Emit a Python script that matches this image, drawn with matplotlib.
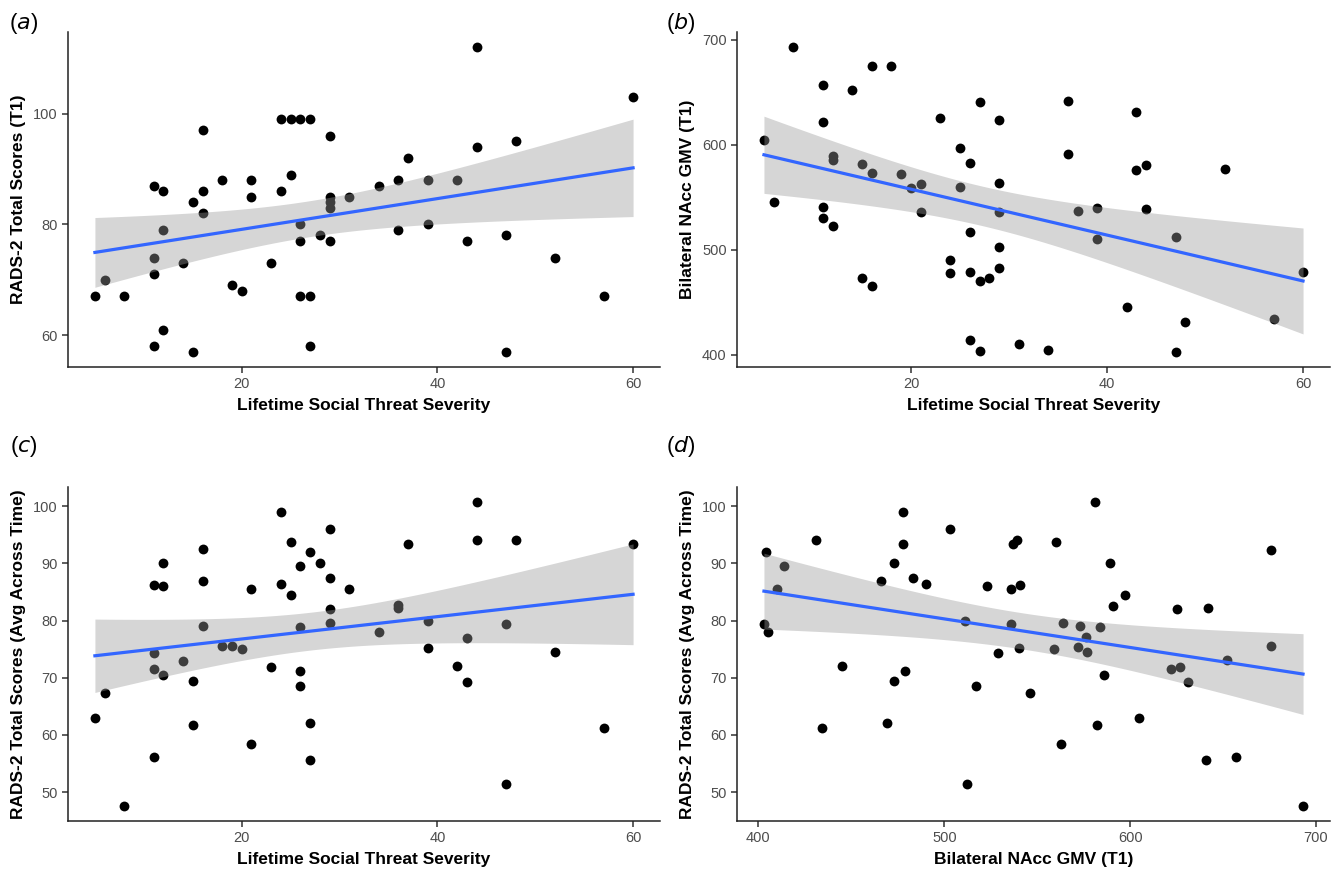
"""
Four-panel scatter: social threat severity, NAcc GMV and RADS-2 depressive symptoms,
each with an OLS fit and 95% confidence band (ggplot geom_smooth look).
"""
import numpy as np
import matplotlib
matplotlib.use("Agg")
import matplotlib.pyplot as plt

# ── Data ────────────────────────────────────────────────────────────────────
# (a) Lifetime social threat severity vs RADS-2 total (T1)
threat_a = [5, 6, 8, 11, 11, 11, 11, 12, 12, 12, 14, 15, 15, 16, 16, 16, 18, 19, 20,
            21, 21, 23, 24, 24, 25, 25, 26, 26, 26, 26, 27, 27, 27, 28, 29, 29, 29, 29,
            29, 31, 34, 36, 36, 37, 39, 39, 42, 43, 44, 44, 47, 47, 48, 52, 57, 60]
rads_t1 = [67, 70, 67, 87, 74, 71, 58, 86, 79, 61, 73, 84, 57, 97, 86, 82, 88, 69, 68,
           88, 85, 73, 99, 86, 99, 89, 99, 80, 77, 67, 99, 67, 58, 78, 96, 85, 84, 83,
           77, 85, 87, 88, 79, 92, 88, 80, 88, 77, 112, 94, 78, 57, 95, 74, 67, 103]

# (b) Lifetime social threat severity vs bilateral NAcc GMV (T1)
threat_b = [5, 6, 8, 11, 11, 11, 11, 12, 12, 12, 14, 15, 15, 16, 16, 16, 18, 19, 20,
            21, 21, 23, 24, 24, 25, 25, 26, 26, 26, 26, 27, 27, 27, 28, 29, 29, 29, 29,
            29, 31, 34, 36, 36, 37, 39, 39, 42, 43, 43, 44, 44, 47, 47, 48, 52, 57, 60]
nacc_b = [605, 546, 693, 657, 622, 541, 530, 589, 586, 523, 652, 582, 473, 675, 573,
          466, 675, 572, 559, 563, 536, 626, 490, 478, 597, 560, 583, 517, 479, 414,
          641, 470, 404, 473, 624, 564, 536, 503, 483, 410, 405, 642, 591, 537, 540,
          510, 446, 631, 576, 581, 539, 512, 403, 431, 577, 434, 479]

# (c) Lifetime social threat severity vs RADS-2 total (avg across time)
threat_c = [5, 6, 8, 11, 11, 11, 11, 12, 12, 12, 14, 15, 15, 16, 16, 16, 18, 19, 20,
            21, 21, 23, 24, 24, 25, 25, 26, 26, 26, 26, 27, 27, 27, 28, 29, 29, 29, 29,
            31, 34, 36, 36, 37, 39, 39, 42, 43, 43, 44, 44, 47, 47, 48, 52, 57, 60]
rads_avg_c = [63, 67.4, 47.6, 86.2, 74.3, 71.6, 56.2, 90, 86, 70.4, 73, 69.4, 61.8,
              92.5, 87, 79, 75.5, 75.5, 75, 85.5, 58.4, 71.8, 99, 86.4, 93.8, 84.5,
              89.5, 78.9, 71.2, 68.5, 92, 62, 55.6, 90, 96, 87.5, 82, 79.5, 85.6, 78,
              82.7, 82.2, 93.3, 80, 75.2, 72, 77, 69.2, 100.7, 94, 79.4, 51.4, 94,
              74.5, 61.2, 93.4]

# (d) Bilateral NAcc GMV (T1) vs RADS-2 total (avg across time)
nacc_d = [404, 403, 405, 410, 414, 431, 434, 445, 466, 469, 473, 473, 478, 478, 479,
          483, 490, 503, 511, 512, 517, 523, 529, 537, 539, 536, 541, 536, 540, 546,
          581, 560, 676, 589, 597, 591, 625, 642, 564, 573, 584, 576, 559, 572, 577,
          676, 652, 622, 627, 631, 586, 605, 582, 563, 641, 657, 693]
rads_avg_d = [92, 79.4, 78, 85.6, 89.5, 94, 61.2, 72, 87, 62, 69.4, 90, 99, 93.3, 71.2,
              87.5, 86.4, 96, 80, 51.4, 68.5, 86, 74.3, 93.3, 94, 85.5, 86.2, 79.4, 75.2,
              67.4, 100.7, 93.8, 92.4, 90, 84.5, 82.6, 82, 82.2, 79.5, 79, 78.8, 77.1,
              75, 75.4, 74.5, 75.5, 73.1, 71.6, 71.8, 69.2, 70.4, 63, 61.7, 58.4, 55.6,
              56.2, 47.6]

PANELS = [
    ("a", threat_a, rads_t1, "Lifetime Social Threat Severity",
     "RADS-2 Total Scores (T1)", [20, 40, 60], [60, 80, 100]),
    ("b", threat_b, nacc_b, "Lifetime Social Threat Severity",
     "Bilateral NAcc GMV (T1)", [20, 40, 60], [400, 500, 600, 700]),
    ("c", threat_c, rads_avg_c, "Lifetime Social Threat Severity",
     "RADS-2 Total Scores (Avg Across Time)", [20, 40, 60], [50, 60, 70, 80, 90, 100]),
    ("d", nacc_d, rads_avg_d, "Bilateral NAcc GMV (T1)",
     "RADS-2 Total Scores (Avg Across Time)", [400, 500, 600, 700],
     [50, 60, 70, 80, 90, 100]),
]

# axes boxes in figure pixels: left, right, top, bottom ; tag centre (x, y)
W, H = 1339, 869
BOXES = {"a": (68, 660, 32, 367), "b": (737, 1330, 32, 367),
         "c": (68, 660, 487, 821), "d": (737, 1330, 487, 821)}
TAGS = {"a": (24, 23), "b": (681, 23), "c": (24, 446), "d": (681, 446)}
T_CRIT = 2.005  # t(0.975, df≈54)


def ols_band(x, y, n_grid=80):
    """Linear fit with 95% CI for the mean, like geom_smooth(method='lm')."""
    x = np.asarray(x, float)
    y = np.asarray(y, float)
    n = len(x)
    b1, b0 = np.polyfit(x, y, 1)
    resid = y - (b0 + b1 * x)
    s = np.sqrt((resid ** 2).sum() / (n - 2))
    xg = np.linspace(x.min(), x.max(), n_grid)
    yg = b0 + b1 * xg
    se = s * np.sqrt(1 / n + (xg - x.mean()) ** 2 / ((x - x.mean()) ** 2).sum())
    return xg, yg, yg - T_CRIT * se, yg + T_CRIT * se


plt.rcParams.update({
    "font.family": ["Liberation Sans", "DejaVu Sans"],
    "axes.spines.top": False, "axes.spines.right": False,
    "axes.linewidth": 1.1, "axes.edgecolor": "#222222",
    "xtick.color": "#333333", "ytick.color": "#333333",
    "xtick.labelcolor": "#4D4D4D", "ytick.labelcolor": "#4D4D4D",
    "xtick.labelsize": 10.5, "ytick.labelsize": 10.5,
    "xtick.major.size": 4, "ytick.major.size": 4,
    "xtick.major.width": 1.1, "ytick.major.width": 1.1,
})

fig = plt.figure(figsize=(W / 100, H / 100), dpi=100)

for tag, x, y, xlab, ylab, xt, yt in PANELS:
    l, r, t, b = BOXES[tag]
    ax = fig.add_axes([l / W, 1 - b / H, (r - l) / W, (b - t) / H])

    ax.scatter(x, y, s=50, color="black", linewidths=0, zorder=2)
    xg, yg, lo, hi = ols_band(x, y)
    ax.fill_between(xg, lo, hi, color="#999999", alpha=0.4, linewidth=0, zorder=3)
    ax.plot(xg, yg, color="#3366FF", linewidth=2.3, zorder=4)

    ax.set_xticks(xt)
    ax.set_yticks(yt)
    ax.margins(x=0.05, y=0.05)
    ax.set_xlabel(xlab, fontsize=12.5, fontweight="bold", labelpad=5)
    ax.set_ylabel(ylab, fontsize=12.5, fontweight="bold", labelpad=5)

    tx, ty = TAGS[tag]
    fig.text(tx / W, 1 - ty / H, "(" + r"$\it{" + tag + "}$" + ")",
             fontsize=16, ha="center", va="center")

fig.savefig("out.png", dpi=100)
plt.close(fig)
